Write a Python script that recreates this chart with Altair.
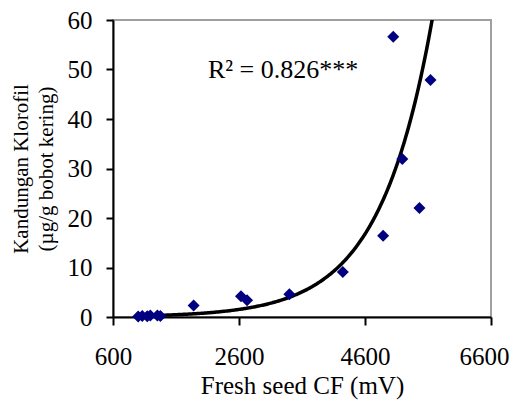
import altair as alt
import numpy as np
import pandas as pd

# Data
cf_mv = [1000, 1064, 1144, 1192, 1304, 1352, 1880, 2632, 2728, 3400, 4248, 4888, 5048, 5192, 5464, 5640]
chlorophyll = [0.1, 0.2, 0.15, 0.3, 0.3, 0.2, 2.3, 4.2, 3.4, 4.6, 9.1, 16.4, 56.6, 31.9, 22.0, 47.9]
x_ticks = [600, 2600, 4600, 6600]
y_ticks = [0, 10, 20, 30, 40, 50, 60]
annotation = "R² = 0.826***"

pts = pd.DataFrame({"x": cf_mv, "y": chlorophyll})

# Exponential trendline (least squares on log y, as in a spreadsheet trendline)
b, ln_a = np.polyfit(np.array(cf_mv, float), np.log(np.array(chlorophyll, float)), 1)
xs = np.linspace(min(cf_mv), 6000, 300)
fit = pd.DataFrame({"x": xs, "y": np.exp(ln_a) * np.exp(b * xs)})
fit = fit[fit["y"] <= 64]

font = "Liberation Serif"
xscale = alt.Scale(domain=[600, 6600], nice=False, zero=False)
yscale = alt.Scale(domain=[0, 60], nice=False)

xaxis = alt.Axis(values=x_ticks, format="d", title="Fresh seed CF (mV)", grid=False,
                 domainColor="black", domainWidth=2, tickColor="black", tickWidth=2,
                 tickSize=8, labelPadding=19, labelFontSize=25, titleFontSize=25,
                 labelFont=font, titleFont=font, titleFontWeight="normal",
                 labelColor="black", titleColor="black", titlePadding=4, labelFlush=False,
                 labelOffset={"condition": {"test": "datum.value == 6600", "value": -7}, "value": 0})
yaxis = alt.Axis(values=y_ticks, format="d", title=["Kandungan Klorofil", "(µg/g bobot kering)"], grid=False,
                 domainColor="black", domainWidth=2, tickColor="black", tickWidth=2,
                 tickSize=7, labelPadding=14, labelFontSize=25, titleFontSize=21,
                 labelFont=font, titleFont=font, titleFontWeight="normal",
                 labelColor="black", titleColor="black", titleLineHeight=25,
                 titleAngle=-90, titleX=-86, titleY=148.5, titleAlign="center",
                 titleBaseline="alphabetic")

points = alt.Chart(pts).mark_point(shape="diamond", filled=True, color="#000080", size=144, opacity=1).encode(
    x=alt.X("x:Q", scale=xscale, axis=xaxis),
    y=alt.Y("y:Q", scale=yscale, axis=yaxis),
)

line = alt.Chart(fit).mark_line(color="black", strokeWidth=3.5, clip=True).encode(
    x=alt.X("x:Q", scale=xscale),
    y=alt.Y("y:Q", scale=yscale),
)

txt = alt.Chart(pd.DataFrame({"x": [3300], "y": [48.3], "t": [annotation]})).mark_text(
    font=font, fontSize=26, color="black", align="center", baseline="alphabetic"
).encode(x=alt.X("x:Q", scale=xscale), y=alt.Y("y:Q", scale=yscale), text="t:N")

chart = alt.layer(line, points, txt).properties(
    width=378, height=297,
    padding={"left": 105, "top": 12, "right": 20, "bottom": 92},
    autosize=alt.AutoSizeParams(type="none"),
).configure_view(stroke="#a0a0a0", strokeWidth=2)

chart.save("out.html", embed_options={"renderer": "svg", "actions": False})
